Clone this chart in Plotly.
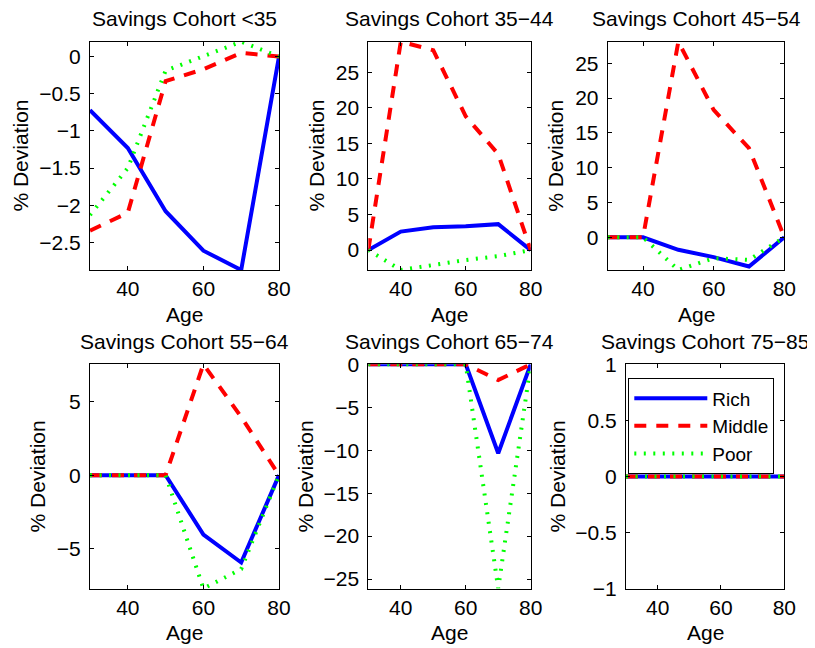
import numpy as np
import plotly.graph_objects as go

# page is 815x648; the page body adds an 8px offset, so the figure is drawn 8px smaller
PAGE_W, PAGE_H = 815, 648
OFF = 8
W, H = PAGE_W - OFF, PAGE_H - OFF


def px(x):
    return (x - OFF) / W


def py(y):
    return 1 - (y - OFF) / H


ages = [30, 40, 50, 60, 70, 80]
series_names = ["Rich", "Middle", "Poor"]

titles = ["Savings Cohort <35", "Savings Cohort 35\u221244", "Savings Cohort 45\u221254",
          "Savings Cohort 55\u221264", "Savings Cohort 65\u221274", "Savings Cohort 75\u221285"]

rich_lt35 = [-0.72, -1.23, -2.08, -2.61, -2.87, 0.0]
middle_lt35 = [-2.34, -2.10, -0.33, -0.17, 0.05, 0.0]
poor_lt35 = [-2.13, -1.50, -0.19, 0.0, 0.20, 0.0]

rich_35_44 = [0.0, 2.6, 3.2, 3.35, 3.65, 0.0]
middle_35_44 = [0.0, 29.3, 28.1, 18.8, 13.5, 0.0]
poor_35_44 = [0.0, -2.8, -2.1, -1.4, -0.85, 0.0]

rich_45_54 = [0.0, 0.0, -1.8, -2.85, -4.2, 0.0]
middle_45_54 = [0.0, 0.0, 28.1, 18.3, 12.8, 0.0]
poor_45_54 = [0.0, 0.0, -4.7, -3.0, -3.25, 0.0]

rich_55_64 = [0.0, 0.0, 0.0, -4.05, -5.95, 0.0]
middle_55_64 = [0.0, 0.0, 0.0, 7.55, 3.97, 0.0]
poor_55_64 = [0.0, 0.0, 0.0, -7.72, -6.4, 0.0]

rich_65_74 = [0.0, 0.0, 0.0, 0.0, -10.35, 0.0]
middle_65_74 = [0.0, 0.0, 0.0, 0.0, -1.83, 0.0]
poor_65_74 = [0.0, 0.0, 0.0, 0.0, -26.1, 0.0]

rich_75_85 = [0.0, 0.0, 0.0, 0.0, 0.0, 0.0]
middle_75_85 = [0.0, 0.0, 0.0, 0.0, 0.0, 0.0]
poor_75_85 = [0.0, 0.0, 0.0, 0.0, 0.0, 0.0]

x_tickvals = [40, 60, 80]
y_dticks = [0.5, 5, 5, 5, 5, 0.5]

panels = [
    (rich_lt35, middle_lt35, poor_lt35),
    (rich_35_44, middle_35_44, poor_35_44),
    (rich_45_54, middle_45_54, poor_45_54),
    (rich_55_64, middle_55_64, poor_55_64),
    (rich_65_74, middle_65_74, poor_65_74),
    (rich_75_85, middle_75_85, poor_75_85),
]

# axes boxes in page pixels: left, right, top, bottom
boxes = [
    (90.0, 279.0, 41.7, 270.0),
    (368.3, 530.7, 41.7, 270.0),
    (607.7, 784.3, 41.7, 270.0),
    (90.0, 279.0, 364.3, 588.5),
    (368.3, 530.7, 364.3, 588.5),
    (626.0, 784.3, 364.3, 588.5),
]
ylabel_x = [20.7, 316.7, 556.0, 37.0, 305.0, 557.0]

styles = [
    dict(color="#0000FF", width=4, dash="solid"),
    dict(color="#FF0000", width=4, dash="12px,10px"),
    dict(color="#00FF00", width=4, dash="2px,7.5px"),
]

FONT = "Liberation Sans, Arial, Helvetica, sans-serif"
FS = 21

fig = go.Figure()
annotations = []
layout = {}
for i, (vals, box) in enumerate(zip(panels, boxes)):
    n = "" if i == 0 else str(i + 1)
    for j, (name, v) in enumerate(zip(series_names, vals)):
        fig.add_trace(go.Scatter(
            x=ages, y=v, mode="lines", name=name, line=styles[j],
            xaxis="x" + n, yaxis="y" + n,
            showlegend=(i == 5), hoverinfo="skip"))
    allv = np.concatenate([np.asarray(a) for a in vals])
    lo, hi = float(allv.min()), float(allv.max())
    if hi - lo == 0:
        lo, hi = lo - 1, hi + 1
    l, r, t, b = box
    common = dict(showline=True, linecolor="black", linewidth=1, mirror="ticks",
                  ticks="inside", ticklen=4, tickcolor="black", showgrid=False,
                  zeroline=False, automargin=False,
                  tickfont=dict(family=FONT, size=FS, color="black"))
    layout["xaxis" + n] = dict(domain=[px(l), px(r)], anchor="y" + n,
                               range=[ages[0], ages[-1]], tickvals=x_tickvals, **common)
    layout["yaxis" + n] = dict(domain=[py(b), py(t)], anchor="x" + n,
                               range=[lo, hi], tick0=0, dtick=y_dticks[i],
                               ticklabelstandoff=4, **common)
    cx = px((l + r) / 2)
    annotations.append(dict(text=titles[i], x=cx, y=py(t - 9.5), xref="paper", yref="paper",
                            xanchor="center", yanchor="bottom", showarrow=False,
                            font=dict(family=FONT, size=FS, color="black")))
    annotations.append(dict(text="Age", x=cx, y=py(b + 44.0), xref="paper", yref="paper",
                            xanchor="center", yanchor="middle", showarrow=False,
                            font=dict(family=FONT, size=FS, color="black")))
    annotations.append(dict(text="% Deviation", x=px(ylabel_x[i]), y=py((t + b) / 2),
                            xref="paper", yref="paper", xanchor="center", yanchor="middle",
                            textangle=-90, showarrow=False,
                            font=dict(family=FONT, size=FS, color="black")))

fig.update_layout(
    width=W, height=H, autosize=False,
    margin=dict(l=0, r=0, t=0, b=0, pad=0),
    paper_bgcolor="white", plot_bgcolor="white",
    annotations=annotations,
    legend=dict(x=px(628.3), y=py(378.3), xanchor="left", yanchor="top",
                bgcolor="white", bordercolor="black", borderwidth=1,
                font=dict(family=FONT, size=19, color="black"), itemwidth=73,
                tracegroupgap=0),
    **layout,
)

fig.write_html("out.html")
